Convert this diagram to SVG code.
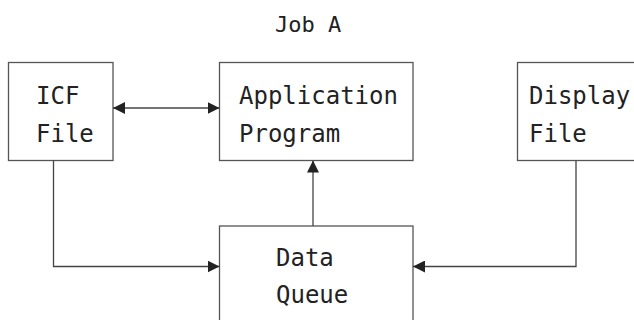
<svg xmlns="http://www.w3.org/2000/svg" width="634" height="320" viewBox="0 0 634 320">
  <style>
    .box { fill: #ffffff; stroke: #555555; stroke-width: 1.3; }
    .lbl { font-family: "DejaVu Sans Mono", "Liberation Mono", monospace; font-size: 24px; fill: #222222; }
    .wire { fill: none; stroke: #444444; stroke-width: 1.3; }
  </style>
  <defs>
    <marker id="head" viewBox="0 0 12 12" refX="12" refY="6" markerWidth="12" markerHeight="12" markerUnits="userSpaceOnUse" orient="auto-start-reverse">
      <path d="M0,0 L12,6 L0,12 Z" fill="#222222"/>
    </marker>
  </defs>
  <rect width="634" height="320" fill="#ffffff"/>

  <text class="lbl" x="275" y="32" style="font-size:22px">Job A</text>

  <g id="icf-file">
    <rect class="box" x="8.5" y="62.5" width="104.5" height="98"/>
    <text class="lbl" x="36" y="104">ICF</text>
    <text class="lbl" x="36" y="142">File</text>
  </g>

  <g id="application-program">
    <rect class="box" x="219.5" y="62.5" width="193.5" height="98"/>
    <text class="lbl" x="239" y="104">Application</text>
    <text class="lbl" x="239" y="142">Program</text>
  </g>

  <g id="display-file">
    <rect class="box" x="517.5" y="62.5" width="130" height="98"/>
    <text class="lbl" x="529" y="104">Display</text>
    <text class="lbl" x="529" y="142">File</text>
  </g>

  <g id="data-queue">
    <rect class="box" x="219.5" y="226" width="193.5" height="110"/>
    <text class="lbl" x="276" y="266">Data</text>
    <text class="lbl" x="276" y="303">Queue</text>
  </g>

  <g id="connectors">
    <line class="wire" x1="113" y1="108" x2="219.5" y2="108" marker-start="url(#head)" marker-end="url(#head)"/>
    <line class="wire" x1="313" y1="226" x2="313" y2="160.5" marker-end="url(#head)"/>
    <polyline class="wire" points="53.5,160.5 53.5,266.5 219.5,266.5" marker-end="url(#head)"/>
    <polyline class="wire" points="576,160.5 576,266.5 413,266.5" marker-end="url(#head)"/>
  </g>
</svg>
